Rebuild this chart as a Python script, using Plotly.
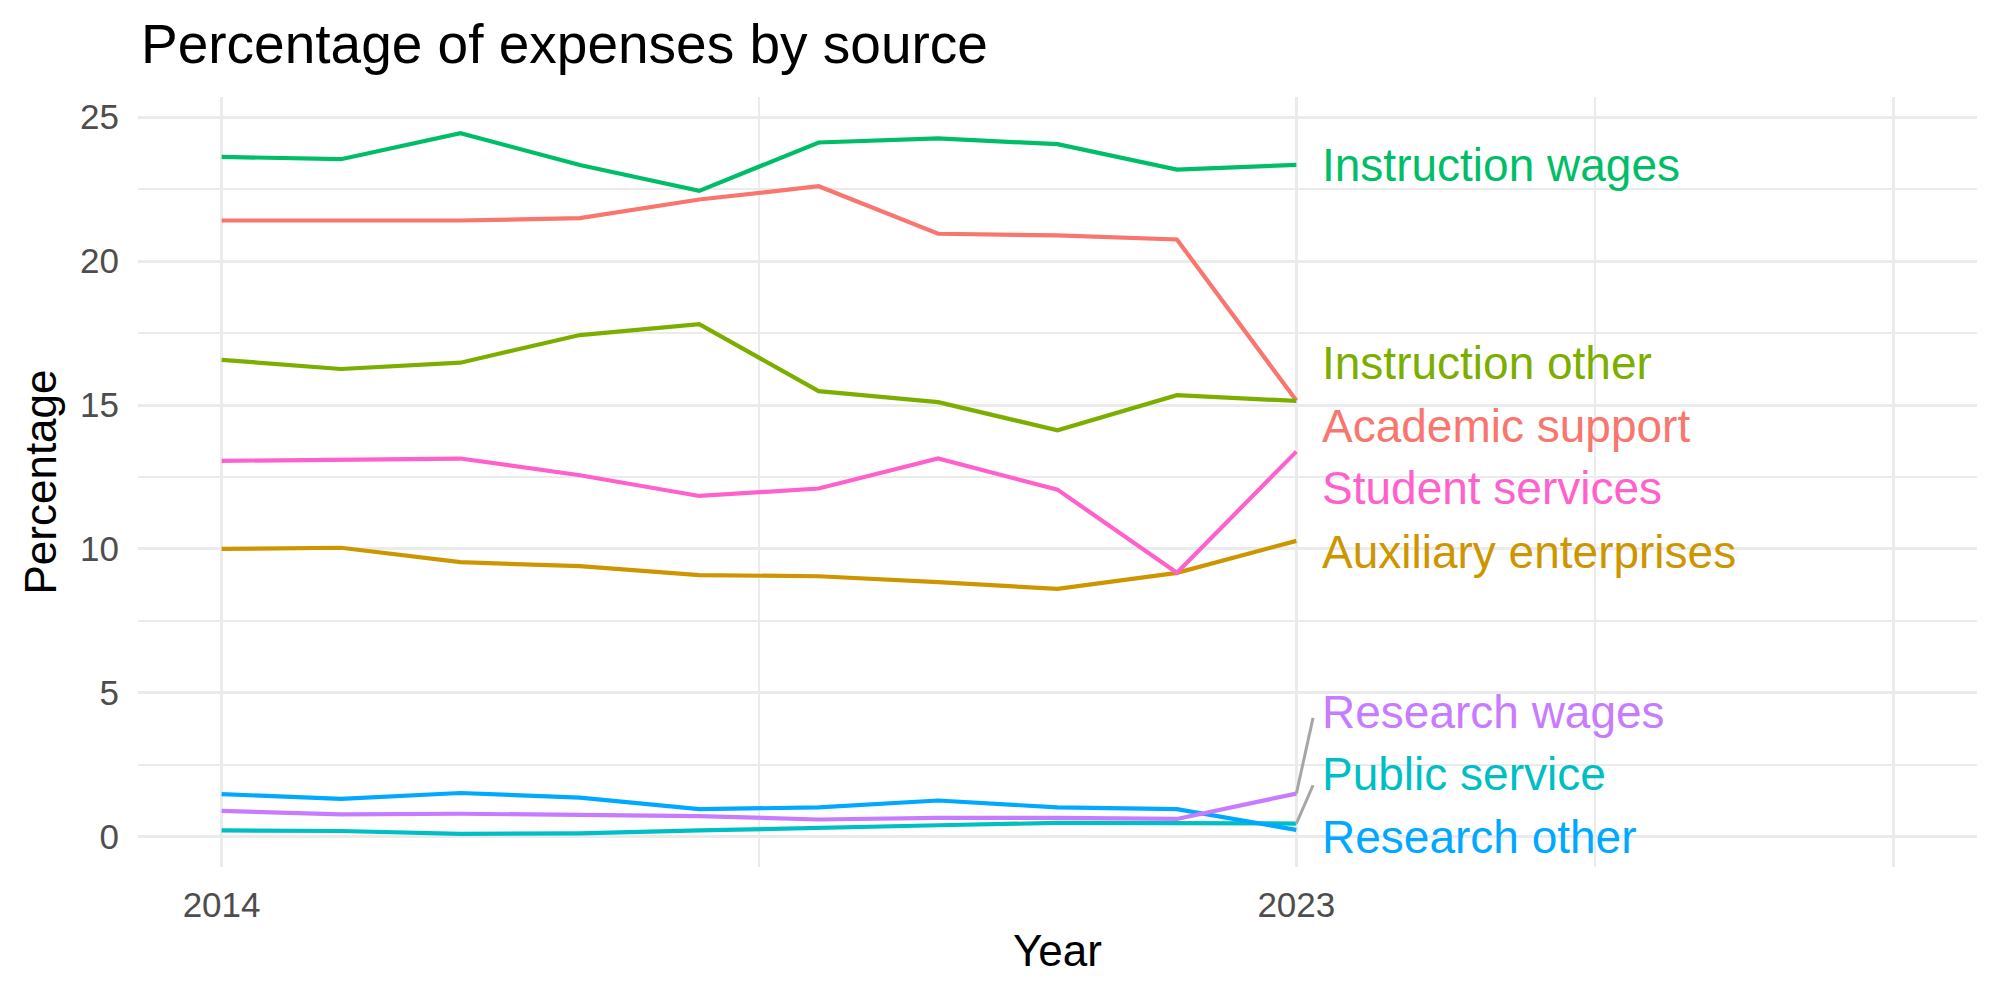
import plotly.graph_objects as go

years = [2014, 2015, 2016, 2017, 2018, 2019, 2020, 2021, 2022, 2023]

series_names = ["Academic support", "Auxiliary enterprises", "Instruction other",
                "Instruction wages", "Public service", "Research other",
                "Research wages", "Student services"]

academic_support = [21.41, 21.41, 21.41, 21.49, 22.14, 22.60, 20.95, 20.89, 20.75, 15.16]
auxiliary_enterprises = [10.00, 10.04, 9.54, 9.40, 9.09, 9.05, 8.85, 8.61, 9.17, 10.28]
instruction_other = [16.57, 16.25, 16.47, 17.43, 17.81, 15.48, 15.10, 14.12, 15.34, 15.14]
instruction_wages = [23.62, 23.54, 24.44, 23.34, 22.44, 24.12, 24.26, 24.06, 23.18, 23.34]
public_service = [0.22, 0.20, 0.10, 0.12, 0.22, 0.32, 0.40, 0.48, 0.46, 0.46]
research_other = [1.48, 1.32, 1.52, 1.36, 0.96, 1.02, 1.26, 1.02, 0.96, 0.24]
research_wages = [0.90, 0.78, 0.80, 0.76, 0.72, 0.60, 0.66, 0.66, 0.62, 1.50]
student_services = [13.06, 13.10, 13.14, 12.56, 11.84, 12.10, 13.14, 12.06, 9.17, 13.38]

series_values = [academic_support, auxiliary_enterprises, instruction_other,
                 instruction_wages, public_service, research_other,
                 research_wages, student_services]

colors = ["#F8766D", "#CD9600", "#7CAE00", "#00BE67",
          "#00BFC4", "#00A9FF", "#C77CFF", "#FF61CC"]

# label positions (repelled text labels at the end of each line)
label_y = [14.27, 9.90, 16.46, 23.33, 2.18, -0.01, 4.35, 12.11]
label_x = 2023.2

x_tick_vals = [2014, 2023, 2028]
x_tick_text = ["2014", "2023", ""]
y_tick_vals = [0, 5, 10, 15, 20, 25]

FONT = "Liberation Sans"

fig = go.Figure()
for name, vals, col in zip(series_names, series_values, colors):
    fig.add_trace(go.Scatter(x=years, y=vals, mode="lines", name=name,
                             line=dict(color=col, width=4.2), showlegend=False))

annotations = []
for name, ly, col in zip(series_names, label_y, colors):
    annotations.append(dict(x=label_x, y=ly, xref="x", yref="y", text=name,
                            showarrow=False, xanchor="left", yanchor="middle",
                            font=dict(family=FONT, size=46, color=col)))

# connector segments for repelled labels
shapes = []
seg_ends = {"Research wages": 4.13, "Public service": 1.79}
for name, vals in zip(series_names, series_values):
    if name in seg_ends:
        shapes.append(dict(type="line", xref="x", yref="y", x0=years[-1], y0=vals[-1],
                           x1=2023.14, y1=seg_ends[name],
                           line=dict(color="#A6A6A6", width=3)))

fig.update_layout(
    width=2000, height=1000,
    paper_bgcolor="white", plot_bgcolor="white",
    margin=dict(l=138, r=23, t=97, b=133),
    title=dict(text="Percentage of expenses by source", xref="container", yref="container",
               x=141 / 2000, xanchor="left", y=1 - 44 / 1000, yanchor="middle",
               font=dict(family=FONT, size=55, color="black")),
    annotations=annotations,
    shapes=shapes,
    font=dict(family=FONT),
)

fig.update_xaxes(
    range=[2013.3, 2028.7], tickvals=x_tick_vals, ticktext=x_tick_text,
    showgrid=True, gridcolor="#EBEBEB", gridwidth=3, zeroline=False, showline=False,
    ticks="", ticklabelstandoff=14,
    tickfont=dict(family=FONT, size=35, color="#4D4D4D"),
    minor=dict(tickvals=[2018.5, 2025.5], showgrid=True, gridcolor="#EBEBEB", gridwidth=2),
    title=dict(text="Year", font=dict(family=FONT, size=44, color="black"), standoff=12),
)
fig.update_yaxes(
    range=[-1.05, 25.7], tickvals=y_tick_vals,
    showgrid=True, gridcolor="#EBEBEB", gridwidth=3, zeroline=False, showline=False,
    ticks="", ticklabelstandoff=18,
    tickfont=dict(family=FONT, size=35, color="#4D4D4D"),
    minor=dict(tickvals=[2.5, 7.5, 12.5, 17.5, 22.5], showgrid=True, gridcolor="#EBEBEB", gridwidth=2),
    title=dict(text="Percentage", font=dict(family=FONT, size=44, color="black"), standoff=9),
)

fig.write_html("out.html")
